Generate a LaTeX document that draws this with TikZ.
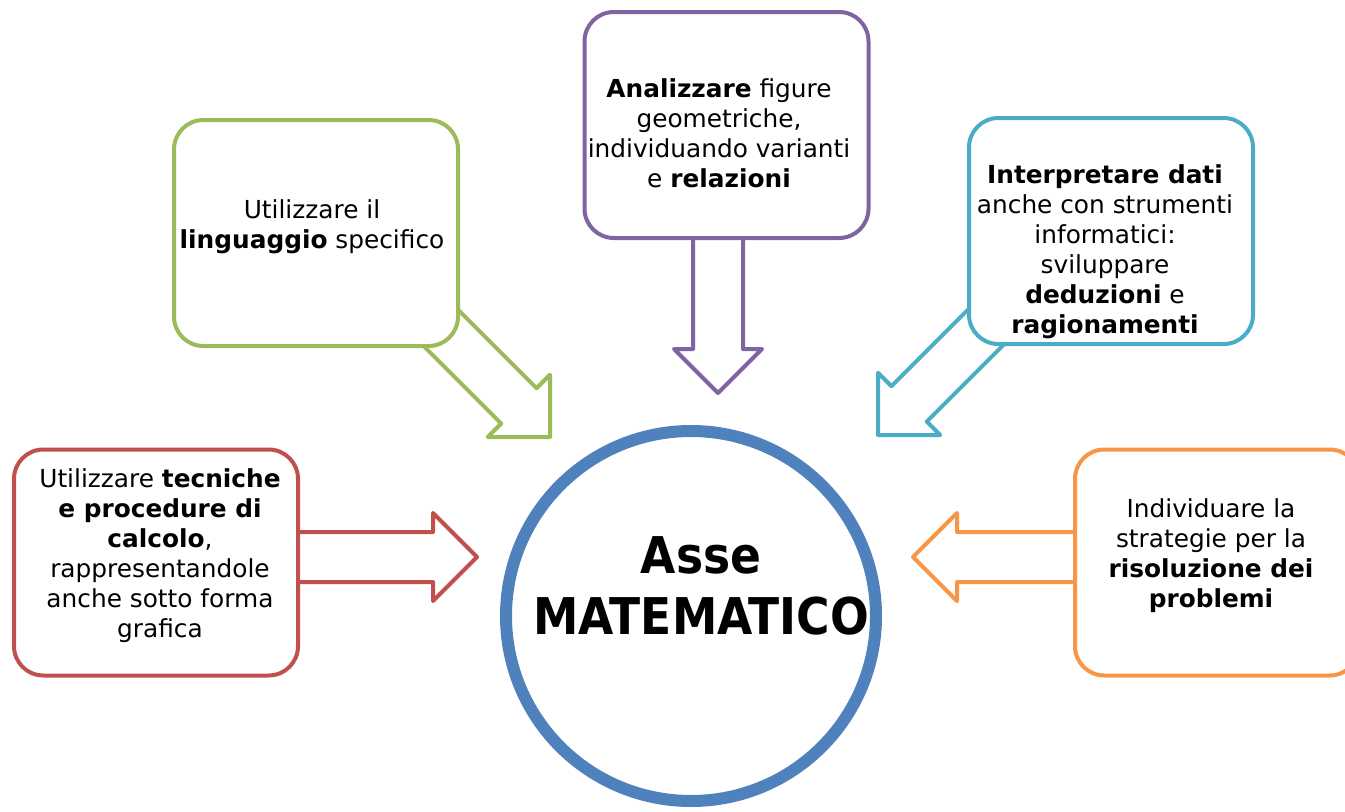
\documentclass[tikz,border=0pt]{standalone}
\usepackage{fontspec}
\setmainfont{DejaVu Sans}
\newfontfamily\condfont{DejaVu Sans Condensed}
\definecolor{cgreen}{HTML}{9BBB59}
\definecolor{cpurple}{HTML}{8064A2}
\definecolor{ccyan}{HTML}{4BACC6}
\definecolor{cred}{HTML}{C0504D}
\definecolor{corange}{HTML}{F79646}
\definecolor{cblue}{HTML}{4F81BD}
\tikzset{
  box/.style={draw, line width=3pt, rounded corners=22pt, fill=white,
    minimum width=213pt, minimum height=169.5pt, inner sep=0pt},
  txt/.style={align=center, inner sep=0pt, font=\fontsize{18.6}{22.5}\selectfont},
  barrow/.style={line width=3pt, line join=round, fill=white},
  big/.style={inner sep=0pt, anchor=base, font=\condfont\bfseries\fontsize{38}{46}\selectfont}
}
\newcommand{\blockarrow}[3]{% #1 colour, #2 transform, #3 length
  \draw[barrow, draw=#1, #2] (0,0) -- (-44,-44) -- (-44,-25) -- (-#3,-25) -- (-#3,25) -- (-44,25) -- (-44,44) -- cycle;}
\begin{document}
\begin{tikzpicture}[x=0.75pt,y=-0.75pt]
\useasboundingbox (0,0) rectangle (1345,811);
\clip (0,0) rectangle (1345,811);
% block arrows (drawn first, boxes cover their tails)
\coordinate (tipG) at (550,437);
\coordinate (tipP) at (718,393);
\coordinate (tipC) at (878,435);
\coordinate (tipR) at (477,557);
\coordinate (tipO) at (913,557);
\blockarrow{cgreen}{shift={(tipG)}, rotate=-45}{200}
\blockarrow{cpurple}{shift={(tipP)}, rotate=-90}{175}
\blockarrow{ccyan}{shift={(tipC)}, rotate=-135}{200}
\blockarrow{cred}{shift={(tipR)}}{200}
\blockarrow{corange}{shift={(tipO)}, rotate=180}{180}
% boxes
\node[box, draw=cgreen] (bg) at (316,233) {};
\node[box, draw=cpurple] (bp) at (726.5,125) {};
\node[box, draw=ccyan] (bc) at (1111,231) {};
\node[box, draw=cred] (br) at (156,562.5) {};
\node[box, draw=corange] (bo) at (1217,562.5) {};
% texts
\node[txt] (tg) at (312,227) {Utilizzare il\\\textbf{linguaggio} specifico};
\node[txt] (tp) at (719,133) {\textbf{Analizzare} figure\\geometriche,\\individuando varianti\\e \textbf{relazioni}};
\node[txt] (tc) at (1105,252) {\textbf{Interpretare dati}\\anche con strumenti\\informatici:\\sviluppare\\\textbf{deduzioni} e\\\textbf{ragionamenti}};
\node[txt] (tr) at (160,556) {Utilizzare \textbf{tecniche}\\\textbf{e procedure di}\\\textbf{calcolo},\\rappresentandole\\anche sotto forma\\grafica};
\node[txt] (to) at (1211,556) {Individuare la\\strategie per la\\\textbf{risoluzione dei}\\\textbf{problemi}};
% circle
\node[circle, draw=cblue, line width=9pt, fill=white, minimum size=277.5pt, inner sep=0pt] (c) at (691,616) {};
\node[big] (c1) at (701,573) {Asse};
\node[big] (c2) at (701,634) {MATEMATICO};
\end{tikzpicture}
\end{document}
